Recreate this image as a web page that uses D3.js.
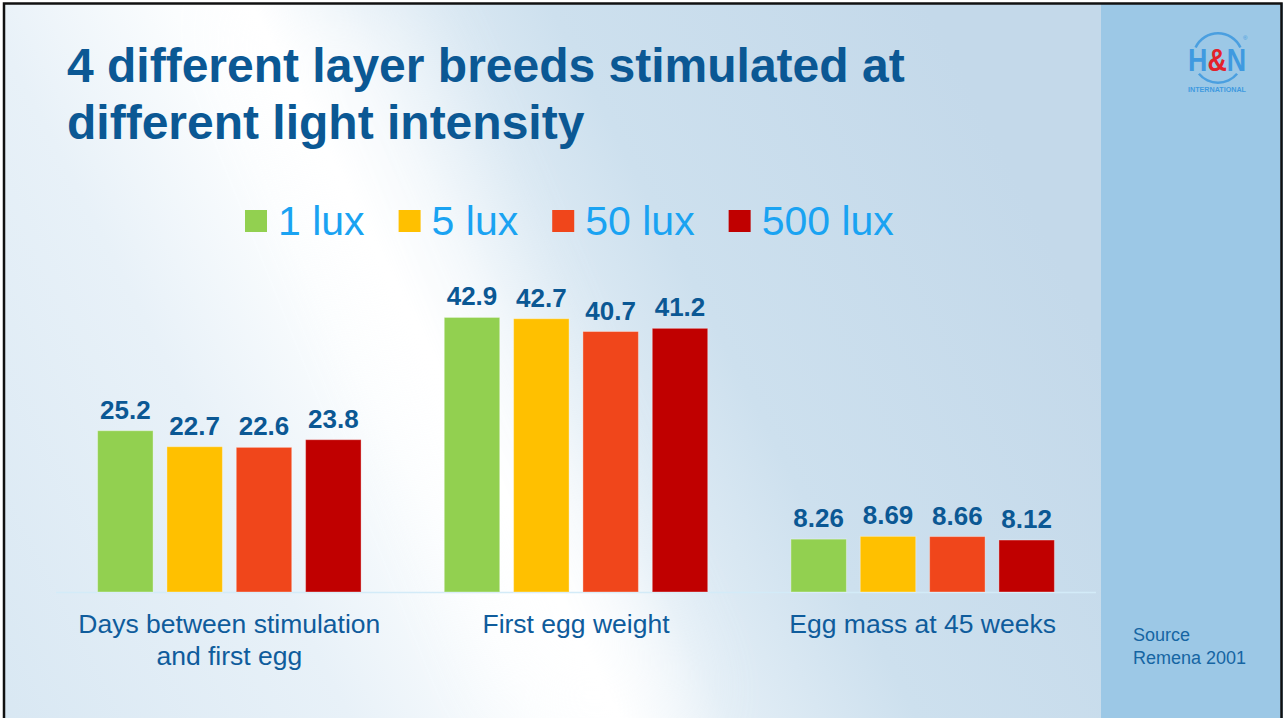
<!DOCTYPE html>
<html>
<head>
<meta charset="utf-8">
<script src="https://cdn.jsdelivr.net/npm/d3@7/dist/d3.min.js"></script>
<style>
  html, body { margin: 0; padding: 0; background: #ffffff; }
  svg { display: block; }
  text { font-family: "Liberation Sans", Arial, sans-serif; }
</style>
</head>
<body>
<svg id="chart" width="1283" height="718"></svg>
<script>
// Measures and light intensities
const categories = ["Days between stimulation\nand first egg", "First egg weight", "Egg mass at 45 weeks"];
const seriesNames = ["1 lux", "5 lux", "50 lux", "500 lux"];
const lux1   = [25.2, 42.9, 8.26];
const lux5   = [22.7, 42.7, 8.69];
const lux50  = [22.6, 40.7, 8.66];
const lux500 = [23.8, 41.2, 8.12];
const seriesColors = ["#92d050", "#ffc000", "#f0461b", "#c00000"];
const titleLines = ["4 different layer breeds stimulated at", "different light intensity"];
const sourceLines = ["Source", "Remena 2001"];

const seriesValues = [lux1, lux5, lux50, lux500];

const W = 1283, H = 718;
const svg = d3.select("#chart");
const defs = svg.append("defs");

// ---- background ----
const bg = defs.append("linearGradient")
  .attr("id", "bgGrad")
  .attr("gradientUnits", "userSpaceOnUse")
  .attr("x1", -98).attr("y1", 634).attr("x2", 968).attr("y2", 84);
[[0, "#d6e6f2"], [0.3, "#e8f1f8"], [0.44, "#fbfdfe"], [0.5, "#ffffff"], [0.58, "#e3eef6"], [0.72, "#cde0ee"], [1, "#c4d9ea"]]
  .forEach(([o, c]) => bg.append("stop").attr("offset", o).attr("stop-color", c));

svg.append("rect").attr("width", W).attr("height", H).attr("fill", "#ffffff");
svg.append("rect").attr("x", 3).attr("y", 3).attr("width", 1098).attr("height", H)
  .attr("fill", "url(#bgGrad)");

// soft glow along the diagonal light streak
const blur = defs.append("filter").attr("id", "soft").attr("x", "-50%").attr("y", "-50%")
  .attr("width", "200%").attr("height", "200%");
blur.append("feGaussianBlur").attr("stdDeviation", 40);
svg.append("path")
  .attr("d", "M230,0 L400,0 L700,718 L520,718 Z")
  .attr("fill", "#ffffff").attr("opacity", 0.55).attr("filter", "url(#soft)");

// right-hand panel
svg.append("rect").attr("x", 1101).attr("y", 3).attr("width", 182).attr("height", H)
  .attr("fill", "#9cc8e6");

// ---- title ----
svg.append("g").selectAll("text").data(titleLines).join("text")
  .attr("x", 67).attr("y", (d, i) => 82 + i * 57)
  .attr("font-size", 48).attr("font-weight", "bold").attr("fill", "#0b5894")
  .text(d => d);

// ---- legend ----
const legend = svg.append("g");
let lx = 245;
seriesNames.forEach((name, i) => {
  legend.append("rect").attr("x", lx).attr("y", 210).attr("width", 22).attr("height", 22)
    .attr("fill", seriesColors[i]);
  const t = legend.append("text").attr("x", lx + 33).attr("y", 235)
    .attr("font-size", 41).attr("fill", "#1aa3f2").text(name);
  lx = lx + 33 + t.node().getComputedTextLength() + 34;
});

// ---- scales ----
const x0 = d3.scaleBand().domain(categories).range([56, 1096]).paddingInner(0).paddingOuter(0);
const x1 = d3.scaleBand().domain(seriesNames).range([0, x0.bandwidth()])
  .paddingInner(0.2).paddingOuter(0.6);
const y = d3.scaleLinear().domain([0, 50]).range([592, 272]);

// baseline
svg.append("line")
  .attr("x1", x0.range()[0]).attr("x2", x0.range()[1])
  .attr("y1", y(0) + 0.5).attr("y2", y(0) + 0.5)
  .attr("stroke", "#d3ebf8").attr("stroke-width", 1.5);

// ---- bars ----
const groups = svg.append("g").selectAll("g").data(categories).join("g")
  .attr("transform", d => `translate(${x0(d)},0)`);

groups.each(function (cat, ci) {
  const g = d3.select(this);
  const rows = seriesNames.map((s, si) => ({ s, v: seriesValues[si][ci], c: seriesColors[si] }));
  g.selectAll("rect").data(rows).join("rect")
    .attr("x", d => x1(d.s)).attr("width", x1.bandwidth())
    .attr("y", d => y(d.v)).attr("height", d => y(0) - y(d.v))
    .attr("fill", d => d.c)
    .attr("stroke", "rgba(255,255,255,0.35)").attr("stroke-width", 1);
  g.selectAll("text.val").data(rows).join("text").attr("class", "val")
    .attr("x", d => x1(d.s) + x1.bandwidth() / 2).attr("y", d => y(d.v) - 12)
    .attr("text-anchor", "middle").attr("font-size", 26).attr("font-weight", "bold")
    .attr("fill", "#0b5894").text(d => d.v);
});

// ---- category labels ----
const catLabels = svg.append("g").selectAll("text").data(categories).join("text")
  .attr("x", d => x0(d) + x0.bandwidth() / 2).attr("y", 633)
  .attr("text-anchor", "middle").attr("font-size", 26.5).attr("fill", "#0f5c9c");
catLabels.each(function (d) {
  const t = d3.select(this);
  d.split("\n").forEach((line, i) => {
    t.append("tspan").attr("x", t.attr("x")).attr("dy", i === 0 ? 0 : 32).text(line);
  });
});

// ---- source note ----
svg.append("g").selectAll("text").data(sourceLines).join("text")
  .attr("x", 1133).attr("y", (d, i) => 641 + i * 22.5)
  .attr("font-size", 18).attr("fill", "#1565a3").text(d => d);

// ---- H&N logo ----
const logo = svg.append("g");
const arc = d3.arc().innerRadius(23.5).outerRadius(26);
logo.append("path").attr("transform", "translate(1218,58)")
  .attr("d", arc({ startAngle: -Math.PI * 0.36, endAngle: Math.PI * 0.36 }))
  .attr("fill", "#4a9fe0");
logo.append("path").attr("transform", "translate(1218,58)")
  .attr("d", arc({ startAngle: Math.PI * 0.72, endAngle: Math.PI * 1.28 }))
  .attr("fill", "#4a9fe0");
// condensed word mark: horizontally squeezed bold letters
const mark = logo.append("text").attr("transform", "translate(1188,71) scale(0.866,1)")
  .attr("font-weight", "bold").attr("font-size", 31);
mark.append("tspan").attr("fill", "#3f9ae0").text("H");
mark.append("tspan").attr("fill", "#e3212b").text("&");
mark.append("tspan").attr("fill", "#3f9ae0").text("N");
logo.append("text").attr("x", 1243).attr("y", 40).attr("font-size", 6)
  .attr("fill", "#3f9ae0").text("®");
logo.append("text").attr("x", 1188).attr("y", 92).attr("font-size", 7)
  .attr("font-weight", "bold").attr("textLength", 58).attr("lengthAdjust", "spacingAndGlyphs")
  .attr("fill", "#3f9ae0").text("INTERNATIONAL");

// ---- slide frame ----
svg.append("rect").attr("x", 4).attr("y", 3.5).attr("width", 1277.5).attr("height", 730)
  .attr("fill", "none").attr("stroke", "#111111").attr("stroke-width", 2.5);
</script>
</body>
</html>
